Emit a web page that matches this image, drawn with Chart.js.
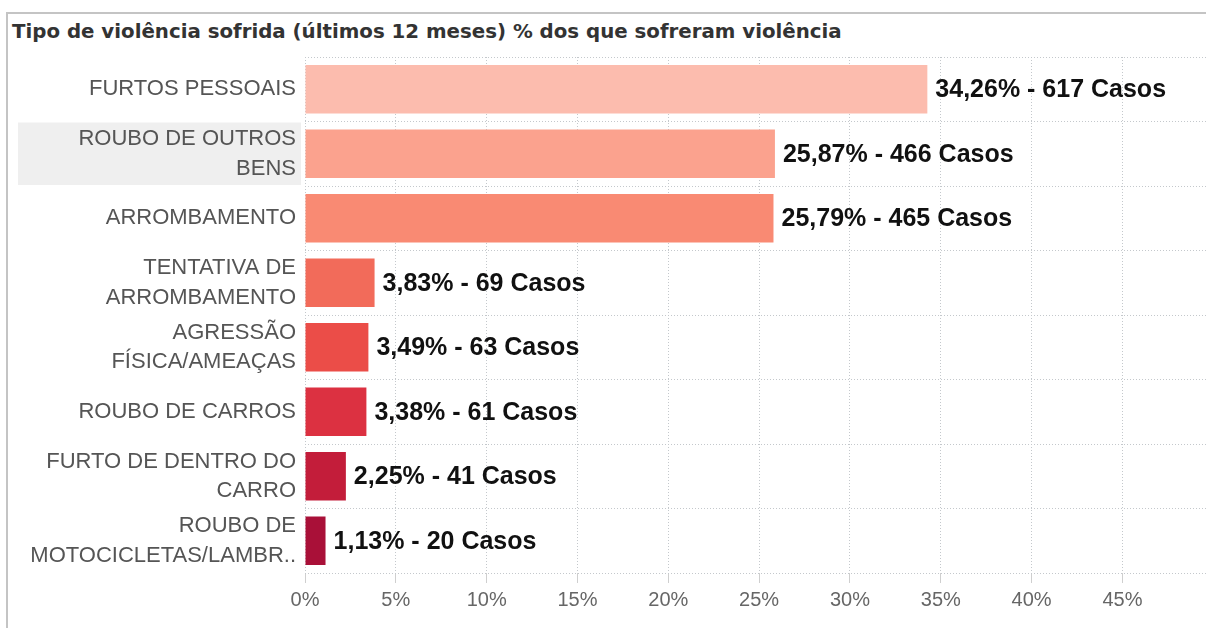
<!DOCTYPE html>
<html lang="pt">
<head>
  <meta charset="UTF-8">
  <title>Tipo de violência sofrida</title>
  <script src="https://cdn.jsdelivr.net/npm/chart.js"></script>
  <style>
    body {
      margin: 0;
      background: #ffffff;
      width: 1206px;
      height: 628px;
      overflow: hidden;
      position: relative;
    }
    .frame {
      position: absolute;
      left: 6px;
      top: 12px;
      width: 1200px;
      height: 616px;
      border-top: 2px solid #c4c4c4;
      border-left: 2px solid #c4c4c4;
      box-sizing: border-box;
    }
    h1 {
      position: absolute;
      left: 12px;
      top: 20px;
      margin: 0;
      font-family: 'DejaVu Sans', Verdana, sans-serif;
      font-weight: bold;
      font-size: 19.8px;
      color: #333333;
      white-space: nowrap;
    }
    .chart-box {
      position: absolute;
      left: 0;
      top: 0;
      width: 1206px;
      height: 628px;
    }
  </style>
</head>
<body>

<div class="frame"></div>
<h1>Tipo de violência sofrida (últimos 12 meses) % dos que sofreram violência</h1>

<div class="chart-box">
  <canvas id="violencia"></canvas>
</div>

<script>
  // categorias (quebradas em linhas como no original)
  const categorias = [
    ['FURTOS PESSOAIS'],
    ['ROUBO DE OUTROS', 'BENS'],
    ['ARROMBAMENTO'],
    ['TENTATIVA DE', 'ARROMBAMENTO'],
    ['AGRESSÃO', 'FÍSICA/AMEAÇAS'],
    ['ROUBO DE CARROS'],
    ['FURTO DE DENTRO DO', 'CARRO'],
    ['ROUBO DE', 'MOTOCICLETAS/LAMBR..']
  ];
  const percentuais = [34.26, 25.87, 25.79, 3.83, 3.49, 3.38, 2.25, 1.13];
  const casos = [617, 466, 465, 69, 63, 61, 41, 20];
  const cores = ['#fcbcae', '#fba28e', '#f98a73', '#f26b5a', '#eb4d48', '#dc3141', '#c31d3a', '#a91038'];
  const ticksX = [0, 5, 10, 15, 20, 25, 30, 35, 40, 45];

  const fmt = v => v.toFixed(2).replace('.', ',');

  // fundo cinza da linha destacada
  const destaque = {
    id: 'destaque',
    beforeDraw(chart) {
      const y = chart.scales.y;
      const ctx = chart.ctx;
      const passo = y.getPixelForValue(1) - y.getPixelForValue(0);
      const cy = y.getPixelForValue(1);
      ctx.save();
      ctx.fillStyle = '#efefef';
      ctx.fillRect(18, cy - passo / 2 + 1, chart.chartArea.left - 22, passo - 2);
      ctx.restore();
    }
  };

  // rótulos ao fim das barras
  const rotulos = {
    id: 'rotulos',
    afterDatasetsDraw(chart) {
      const ctx = chart.ctx;
      const meta = chart.getDatasetMeta(0);
      ctx.save();
      ctx.font = 'bold 25px "Liberation Sans", Arial, sans-serif';
      ctx.fillStyle = '#111111';
      ctx.textBaseline = 'middle';
      ctx.textAlign = 'left';
      meta.data.forEach((bar, i) => {
        ctx.fillText(fmt(percentuais[i]) + '% - ' + casos[i] + ' Casos', bar.x + 8, bar.y + 1);
      });
      ctx.restore();
    }
  };

  const ctx = document.getElementById('violencia').getContext('2d');
  new Chart(ctx, {
    type: 'bar',
    data: {
      labels: categorias,
      datasets: [{
        data: percentuais,
        backgroundColor: cores,
        borderWidth: 0,
        categoryPercentage: 1,
        barPercentage: 0.75
      }]
    },
    options: {
      indexAxis: 'y',
      responsive: true,
      maintainAspectRatio: false,
      animation: false,
      layout: { padding: { top: 57, right: 0, bottom: 0, left: 0 } },
      plugins: {
        legend: { display: false },
        tooltip: { enabled: false }
      },
      scales: {
        x: {
          min: 0,
          max: 49.6,
          afterFit(scale) { scale.height = 55; },
          afterBuildTicks(scale) { scale.ticks = ticksX.map(v => ({ value: v })); },
          border: { display: false, dash: [1, 2] },
          grid: {
            color: '#c4c8cc',
            tickLength: 10,
            tickColor: '#cfcfcf',
            tickBorderDash: []
          },
          ticks: {
            padding: 5,
            color: '#666666',
            font: { family: '"Liberation Sans Narrow", "Liberation Sans", sans-serif', size: 20 },
            callback: v => v + '%',
            maxRotation: 0
          }
        },
        y: {
          afterFit(scale) { scale.width = 305; },
          border: { display: false, dash: [1, 2] },
          grid: {
            offset: true,
            color: '#c4c8cc',
            drawTicks: false
          },
          ticks: {
            padding: 9,
            color: '#555555',
            font: { family: '"Liberation Sans", Arial, sans-serif', size: 22, lineHeight: 1.34 }
          }
        }
      }
    },
    plugins: [destaque, rotulos]
  });
</script>

</body>
</html>
